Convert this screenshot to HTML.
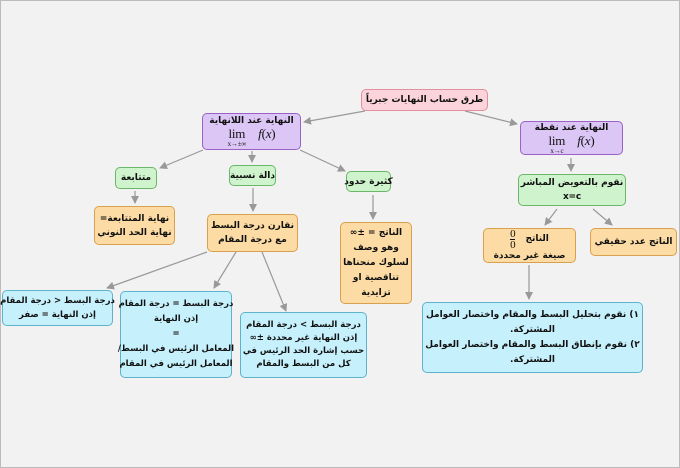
<!DOCTYPE html>
<html><head><meta charset="utf-8"><style>
html,body{margin:0;padding:0}
body{width:680px;height:468px;background:#f2f2f2;position:relative;overflow:hidden;font-family:"DejaVu Sans","Liberation Sans",sans-serif;}
.frame{position:absolute;left:0;top:0;width:678px;height:466px;border:1px solid #bbb;}
.b{position:absolute;box-sizing:border-box;border-radius:5px;border:1px solid;display:flex;flex-direction:column;align-items:center;justify-content:center;text-align:center;font-weight:bold;font-size:9px;line-height:14px;color:#111;direction:rtl;white-space:nowrap;letter-spacing:-0.2px}
.pink{background:#fbd3db;border-color:#e0909e}
.pur{background:#dcc6f6;border-color:#9a62c8}
.grn{background:#cff3cc;border-color:#6cb66a}
.org{background:#fcdca4;border-color:#d9a050}
.blu{background:#c6f0fb;border-color:#5fb2cc}
.lim{font-family:"Liberation Serif",serif;font-weight:normal;direction:ltr;display:flex;align-items:flex-start;font-size:13px;line-height:12px}
.lim .l{margin-right:12px}
.lim span.s{display:block;font-size:7px;line-height:8px;text-align:center}
.fr{display:inline-flex;flex-direction:column;font-family:"Liberation Serif",serif;font-weight:normal;font-size:11px;line-height:10px;margin-right:10px}
.fr span:first-child{border-bottom:1px solid #111}
</style></head><body>
<div class="frame"></div>
<svg width="680" height="468" style="position:absolute;left:0;top:0">
<defs><marker id="a" markerWidth="8" markerHeight="8" refX="7" refY="4" orient="auto" markerUnits="userSpaceOnUse"><path d="M0,0 L8,4 L0,8 Z" fill="#999"/></marker></defs>
<g stroke="#999" stroke-width="1.2" fill="none" marker-end="url(#a)">
<line x1="365" y1="111" x2="304" y2="122"/>
<line x1="465" y1="111" x2="517" y2="124"/>
<line x1="203" y1="150" x2="160" y2="168"/>
<line x1="252" y1="151" x2="252" y2="162"/>
<line x1="300" y1="150" x2="345" y2="171"/>
<line x1="135" y1="191" x2="135" y2="203"/>
<line x1="253" y1="188" x2="253" y2="211"/>
<line x1="373" y1="195" x2="373" y2="219"/>
<line x1="571" y1="158" x2="571" y2="171"/>
<line x1="557" y1="209" x2="545" y2="225"/>
<line x1="593" y1="209" x2="612" y2="225"/>
<line x1="529" y1="265" x2="529" y2="299"/>
<line x1="207" y1="252" x2="107" y2="288"/>
<line x1="236" y1="252" x2="214" y2="288"/>
<line x1="262" y1="252" x2="286" y2="311"/>
</g></svg>
<div class="b pink" style="left:361px;top:89px;width:127px;height:22px">طرق حساب النهايات جبرياً</div>
<div class="b pur" style="left:202px;top:113px;width:99px;height:37px;line-height:13px">النهاية عند اللانهاية<div class="lim"><div class="l">lim<span class="s">x→±∞</span></div><div><i>f</i>(<i>x</i>)</div></div></div>
<div class="b pur" style="left:520px;top:121px;width:103px;height:34px;line-height:13px">النهاية عند نقطة<div class="lim"><div class="l">lim<span class="s">x→c</span></div><div><i>f</i>(<i>x</i>)</div></div></div>
<div class="b grn" style="left:115px;top:167px;width:42px;height:22px">متتابعة</div>
<div class="b grn" style="left:229px;top:165px;width:47px;height:21px">دالة نسبية</div>
<div class="b grn" style="left:346px;top:171px;width:45px;height:21px;letter-spacing:-0.5px">كثيرة حدود</div>
<div class="b org" style="left:94px;top:206px;width:81px;height:39px">نهاية المتتابعة=<br>نهاية الحد النوني</div>
<div class="b org" style="left:207px;top:214px;width:91px;height:38px">نقارن درجة البسط<br>مع درجة المقام</div>
<div class="b org" style="left:340px;top:222px;width:72px;height:82px;line-height:15px">الناتج = ±∞<br>وهو وصف<br>لسلوك منحناها<br>تناقصية او<br>تزايدية</div>
<div class="b grn" style="left:518px;top:174px;width:108px;height:32px">نقوم بالتعويض المباشر<br>x=c</div>
<div class="b org" style="left:483px;top:228px;width:93px;height:35px;line-height:13px"><div style="display:flex;align-items:center">الناتج <span class="fr"><span>0</span><span>0</span></span></div>صيغة غير محددة</div>
<div class="b org" style="left:590px;top:228px;width:87px;height:28px">الناتج عدد حقيقي</div>
<div class="b blu" style="left:422px;top:302px;width:221px;height:71px;line-height:15px">١) نقوم بتحليل البسط والمقام واختصار العوامل<br>المشتركة.<br>٢) نقوم بإنطاق البسط والمقام واختصار العوامل<br>المشتركة.</div>
<div class="b blu" style="left:2px;top:290px;width:111px;height:36px;font-size:8.5px;letter-spacing:-0.4px">درجة البسط &lt; درجة المقام<br>إذن النهاية = صفر</div>
<div class="b blu" style="left:120px;top:291px;width:112px;height:87px;line-height:15px;font-size:8.5px;letter-spacing:-0.4px">درجة البسط = درجة المقام<br>إذن النهاية<br>=<br>المعامل الرئيس في البسط/<br>المعامل الرئيس في المقام</div>
<div class="b blu" style="left:240px;top:312px;width:127px;height:66px;line-height:13px;font-size:8.5px;letter-spacing:-0.3px">درجة البسط &gt; درجة المقام<br>إذن النهاية غير محددة ±∞<br>حسب إشارة الحد الرئيس في<br>كل من البسط والمقام</div>
</body></html>
